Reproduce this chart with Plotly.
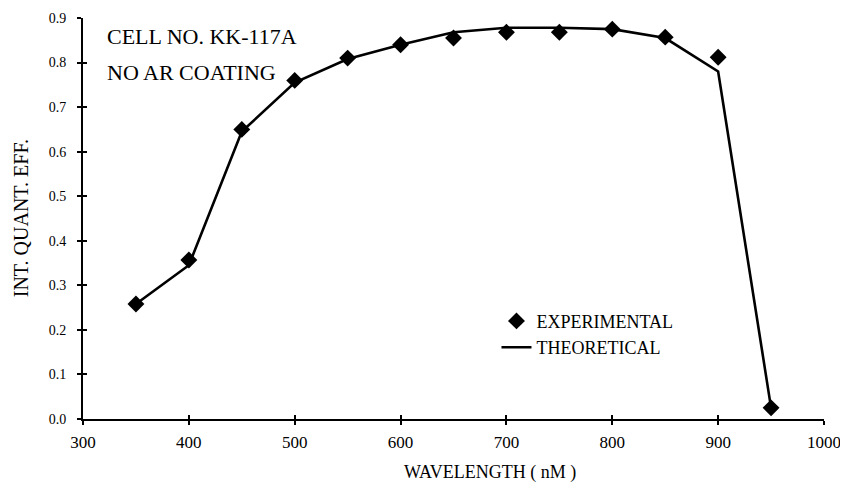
import plotly.graph_objects as go

wavelength = [350, 400, 450, 500, 550, 600, 650, 700, 750, 800, 850, 900, 950]
experimental = [0.258, 0.357, 0.650, 0.760, 0.810, 0.840, 0.855, 0.868, 0.868, 0.875, 0.857, 0.812, 0.025]
theoretical = [0.258, 0.345, 0.645, 0.755, 0.808, 0.840, 0.868, 0.878, 0.878, 0.875, 0.855, 0.780, 0.025]

x_ticks = [300, 400, 500, 600, 700, 800, 900, 1000]
y_ticks = [0.0, 0.1, 0.2, 0.3, 0.4, 0.5, 0.6, 0.7, 0.8, 0.9]

serif = "Liberation Serif, Times New Roman, serif"

fig = go.Figure()
fig.add_trace(go.Scatter(
    x=wavelength, y=experimental, mode="markers", name="EXPERIMENTAL",
    marker=dict(symbol="diamond", size=13, color="black"),
))
fig.add_trace(go.Scatter(
    x=wavelength, y=theoretical, mode="lines", name="THEORETICAL",
    line=dict(color="black", width=2.6),
))
# invisible trace to activate the secondary axes (inside half of the crossing ticks)
fig.add_trace(go.Scatter(x=[None], y=[None], xaxis="x2", yaxis="y2",
                         showlegend=False, hoverinfo="skip"))

fig.update_layout(
    width=840, height=490,
    margin=dict(l=75, r=24, t=10, b=79),
    paper_bgcolor="white", plot_bgcolor="white",
    font=dict(family=serif, color="black", size=14),
    showlegend=True,
    legend=dict(x=0.558, y=0.29, xanchor="left", yanchor="top",
                bgcolor="rgba(0,0,0,0)", font=dict(size=18, family=serif),
                itemwidth=30),
    xaxis=dict(range=[300, 1000], tickvals=x_ticks, ticktext=[str(v) for v in x_ticks],
               showgrid=False, zeroline=False, showline=True, linecolor="black", linewidth=2,
               ticks="outside", ticklen=4, tickwidth=2, tickcolor="black",
               ticklabelstandoff=3, automargin=False,
               tickfont=dict(size=17, family=serif)),
    yaxis=dict(range=[0, 0.9], tickvals=y_ticks, ticktext=[f"{v:.1f}" for v in y_ticks],
               showgrid=False, zeroline=False, showline=True, linecolor="black", linewidth=2,
               ticks="outside", ticklen=4, tickwidth=2, tickcolor="black",
               ticklabelstandoff=8, automargin=False,
               tickfont=dict(size=14, family=serif)),
    xaxis2=dict(range=[300, 1000], tickvals=x_ticks, overlaying="x", anchor="y",
                showticklabels=False, showgrid=False, zeroline=False, automargin=False,
                ticks="inside", ticklen=4, tickwidth=2, tickcolor="black"),
    yaxis2=dict(range=[0, 0.9], tickvals=y_ticks, overlaying="y", anchor="x",
                showticklabels=False, showgrid=False, zeroline=False, automargin=False,
                ticks="inside", ticklen=4, tickwidth=2, tickcolor="black"),
)

# axis titles (placed as text to match the reference's offsets)
fig.add_annotation(text="WAVELENGTH ( nM )", xref="paper", yref="paper", x=0.549, y=-0.134,
                   xanchor="center", yanchor="middle", showarrow=False,
                   font=dict(size=18, family=serif))
fig.add_annotation(text="INT. QUANT. EFF.", xref="paper", yref="paper", x=-0.084, y=0.5,
                   xanchor="center", yanchor="middle", textangle=-90, showarrow=False,
                   font=dict(size=20, family=serif))

fig.add_annotation(text="CELL NO. KK-117A", xref="paper", yref="paper", x=0.03, y=0.955,
                   xanchor="left", yanchor="middle", showarrow=False, font=dict(size=22, family=serif))
fig.add_annotation(text="NO AR COATING", xref="paper", yref="paper", x=0.03, y=0.865,
                   xanchor="left", yanchor="middle", showarrow=False, font=dict(size=22, family=serif))

fig.write_html("out.html")
